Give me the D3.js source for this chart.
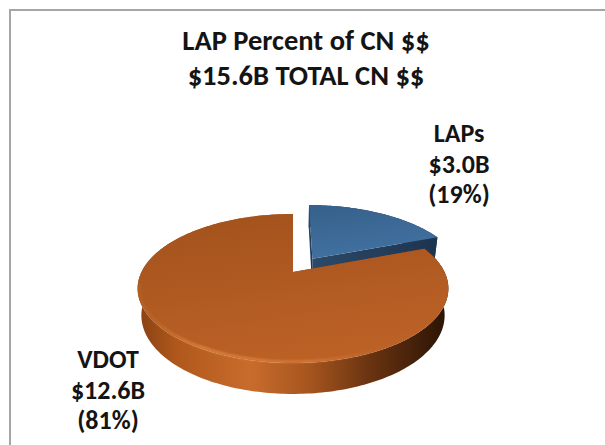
<!DOCTYPE html>
<html>
<head>
<meta charset="utf-8">
<script src="https://cdn.jsdelivr.net/npm/d3@7"></script>
<style>
  body { margin: 0; background: #fff; }
  text { font-family: Carlito, Calibri, Lato, "Open Sans", sans-serif; font-weight: bold; fill: #141414; }
</style>
</head>
<body>
<div id="container"></div>
<script>
const width = 605,
    height = 445;

// DATA
const names = ["LAPs", "VDOT"];
const values = [3.0, 12.6]; // billions of CN $$
const titleLines = ["LAP Percent of CN $$", "TOTAL CN $$"];

// layout / style
const explode = [0.235, 0];
const topColors = [["#36608b", "#4271a0"], ["#a2511c", "#bb6126"]];
const labelPos = [[459, 142], [108, 368]];
const lineGap = 30.5;

// 3D view (perspective)
const view = { cx: 293, cy: 272, F: 604.6, D: 3.99, sinT: 0.4677, cosT: 0.884, h: 0.201 };

function project(x, y, z) {
    const depth = view.D - y * view.sinT - z * view.cosT;
    return [view.cx + view.F * x / depth, view.cy - view.F * (y * view.cosT - z * view.sinT) / depth];
}

const total = d3.sum(values);
const pie = d3.pie().sort(null).value(d => d)(values);

const svg = d3.select("#container")
    .append("svg")
    .attr("width", width)
    .attr("height", height);

const defs = svg.append("defs");

// side gradient of the big slice
const sideGrad = defs.append("linearGradient")
    .attr("id", "sideGrad")
    .attr("gradientUnits", "userSpaceOnUse")
    .attr("x1", 140).attr("x2", 445).attr("y1", 0).attr("y2", 0);
[[0, "#8a4214"], [0.12, "#b0581c"], [0.36, "#c86c2c"], [0.55, "#a7561f"], [0.75, "#6a3411"], [1, "#2c1405"]]
    .forEach(s => sideGrad.append("stop").attr("offset", s[0]).attr("stop-color", s[1]));

topColors.forEach((c, i) => {
    const g = defs.append("linearGradient")
        .attr("id", "topGrad" + i)
        .attr("x1", 0).attr("x2", 0.3).attr("y1", 0).attr("y2", 1);
    g.append("stop").attr("offset", 0).attr("stop-color", c[0]);
    g.append("stop").attr("offset", 1).attr("stop-color", c[1]);
});

const radGrad = defs.append("linearGradient")
    .attr("id", "radGrad")
    .attr("x1", 0).attr("x2", 1).attr("y1", 0).attr("y2", 0);
radGrad.append("stop").attr("offset", 0).attr("stop-color", "#2b4968");
radGrad.append("stop").attr("offset", 1).attr("stop-color", "#1d3450");

const rimGrad = defs.append("linearGradient")
    .attr("id", "rimGrad")
    .attr("gradientUnits", "userSpaceOnUse")
    .attr("x1", 140).attr("x2", 445).attr("y1", 0).attr("y2", 0);
[[0, "#d7813f", 0.2], [0.2, "#ee9450", 0.9], [0.55, "#e88a45", 0.8], [0.85, "#b86a30", 0.2], [1, "#b86a30", 0]]
    .forEach(s => rimGrad.append("stop").attr("offset", s[0]).attr("stop-color", s[1]).attr("stop-opacity", s[2]));

defs.append("filter").attr("id", "soft")
    .append("feGaussianBlur").attr("stdDeviation", 0.9);

// frame
svg.append("rect")
    .attr("x", 10).attr("y", 10)
    .attr("width", 620).attr("height", 460)
    .attr("fill", "none")
    .attr("stroke", "#a6a6a6")
    .attr("stroke-width", 2);

const line = d3.line();

function arcPts(d, i, y, a0, a1, r) {
    const m = (d.startAngle + d.endAngle) / 2;
    const ox = explode[i] * Math.sin(m), oz = -explode[i] * Math.cos(m);
    const n = Math.max(2, Math.ceil(Math.abs(a1 - a0) / 0.02));
    return d3.range(n + 1).map(k => {
        const a = a0 + (a1 - a0) * k / n;
        return project(ox + r * Math.sin(a), y, oz - r * Math.cos(a));
    });
}
function centre(d, i, y) {
    const m = (d.startAngle + d.endAngle) / 2;
    return project(explode[i] * Math.sin(m), y, -explode[i] * Math.cos(m));
}

// far slice first (LAPs), then VDOT
pie.forEach((d, i) => {
    const g = svg.append("g").attr("class", "slice");
    const h = -view.h;

    // outer side
    const top = arcPts(d, i, 0, d.startAngle, d.endAngle, 1);
    const bot = arcPts(d, i, h, d.startAngle, d.endAngle, 1).reverse();
    g.append("path")
        .attr("d", line(top.concat(bot)) + "Z")
        .attr("fill", i === 1 ? "url(#sideGrad)" : "#1f3552");

    // radial faces
    [d.startAngle, d.endAngle].forEach(a => {
        const pts = [centre(d, i, 0), arcPts(d, i, 0, a, a, 1)[0], arcPts(d, i, h, a, a, 1)[0], centre(d, i, h)];
        g.append("path")
            .attr("d", line(pts) + "Z")
            .attr("fill", i === 1 ? "#7a3c12" : "url(#radGrad)");
    });

    // top face
    g.append("path")
        .attr("d", line([centre(d, i, 0)].concat(top)) + "Z")
        .attr("fill", "url(#topGrad" + i + ")");

    // bevel highlight on front rim
    if (i === 1) {
        g.append("path")
            .attr("d", line(arcPts(d, i, 0, Math.PI * 0.6, Math.PI * 1.45, 0.988)))
            .attr("fill", "none")
            .attr("stroke", "url(#rimGrad)")
            .attr("stroke-width", 1.8)
            .attr("filter", "url(#soft)");
    }
});

// title
svg.selectAll(".title")
    .data([titleLines[0], "$" + total.toFixed(1) + "B " + titleLines[1]])
    .join("text")
    .attr("class", "title")
    .attr("x", 306)
    .attr("y", (d, i) => 50 + i * 35)
    .attr("text-anchor", "middle")
    .style("font-size", "28.5px")
    .text(d => d);

// data labels
pie.forEach((d, i) => {
    const lines = [names[i], "$" + values[i].toFixed(1) + "B", "(" + Math.round(values[i] / total * 100) + "%)"];
    svg.append("g")
        .selectAll("text")
        .data(lines)
        .join("text")
        .attr("x", labelPos[i][0])
        .attr("y", (t, k) => labelPos[i][1] + k * lineGap)
        .attr("text-anchor", "middle")
        .style("font-size", "26px")
        .text(t => t);
});
</script>
</body>
</html>
